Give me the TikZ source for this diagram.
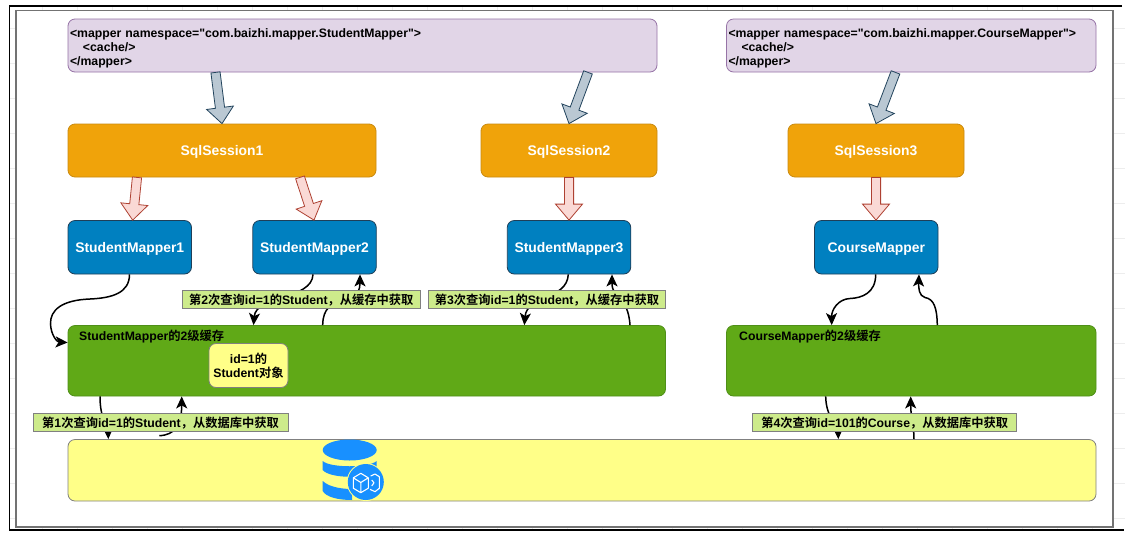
\documentclass[tikz,border=0pt]{standalone}
\usepackage{fontspec}
\usepackage{xcolor}
\newfontfamily\latin{Liberation Sans}
\newfontfamily\cjk[BoldFont={Noto Sans CJK SC Bold}]{Noto Sans CJK SC}
\usetikzlibrary{arrows.meta,calc}
\definecolor{mapperfill}{HTML}{E1D5E7}
\definecolor{mapperline}{HTML}{9673A6}
\definecolor{sessfill}{HTML}{F0A30A}
\definecolor{sessline}{HTML}{C98A10}
\definecolor{smfill}{HTML}{0080C0}
\definecolor{smline}{HTML}{1F3F58}
\definecolor{cachefill}{HTML}{60A917}
\definecolor{cacheline}{HTML}{4F8F18}
\definecolor{notefill}{HTML}{CDEB8B}
\definecolor{dbfill}{HTML}{FFFF88}
\definecolor{iconblue}{HTML}{1890FF}
\definecolor{bluefill}{HTML}{BAC8D3}
\definecolor{blueline}{HTML}{23445D}
\definecolor{redfill}{HTML}{FAD9D5}
\definecolor{redline}{HTML}{AE4132}
\begin{document}
\begin{tikzpicture}[
    x=1pt,y=-1pt,
    txt/.style={font=\latin\fontsize{12.25pt}{14pt}\selectfont\bfseries},
    big/.style={font=\latin\fontsize{13.9pt}{16pt}\selectfont\bfseries,text height=13pt,text depth=3pt},
    box/.style={rectangle,rounded corners=7pt,draw,line width=0.8pt,inner sep=0pt,txt},
    mapperbox/.style={box,fill=mapperfill,draw=mapperline,align=left,minimum height=53pt},
    sessbox/.style={box,fill=sessfill,draw=sessline,text=white,minimum height=53pt,big},
    smbox/.style={box,fill=smfill,draw=smline,text=white,minimum width=123.5pt,minimum height=53.5pt,big},
    cachebox/.style={box,fill=cachefill,draw=cacheline,minimum height=70.5pt},
    objbox/.style={box,fill=dbfill,draw=gray,align=center},
    dbbox/.style={box,fill=dbfill,draw=gray,minimum width=1028pt,minimum height=61.5pt},
    note/.style={rectangle,draw=gray,line width=0.9pt,fill=notefill,inner sep=0pt,minimum height=18pt,txt,text height=12.5pt,text depth=2.6pt},
    title/.style={anchor=west,inner sep=0pt,txt},
    flow/.style={-{Stealth[length=12pt,width=11pt,inset=3pt]},line width=1.5pt},
    fat/.style={line width=0.8pt,to path={
        ($(\tikztostart)!4.6pt!90:(\tikztotarget)$)
        -- ($($(\tikztotarget)!16pt!(\tikztostart)$)!4.6pt!90:(\tikztotarget)$)
        -- ($($(\tikztotarget)!16pt!(\tikztostart)$)!13.5pt!90:(\tikztotarget)$)
        -- (\tikztotarget)
        -- ($($(\tikztotarget)!16pt!(\tikztostart)$)!13.5pt!-90:(\tikztotarget)$)
        -- ($($(\tikztotarget)!16pt!(\tikztostart)$)!4.6pt!-90:(\tikztotarget)$)
        -- ($(\tikztostart)!4.6pt!-90:(\tikztotarget)$) -- cycle}},
    bluearrow/.style={fat,fill=bluefill,draw=blueline},
    redarrow/.style={fat,fill=redfill,draw=redline}
]
\useasboundingbox (0,0) rectangle (1125,542);
% sheet and frames
\foreach \y in {28,63,...,518}
    \draw[black!7,line width=0.5pt] (10,\y) -- (1125,\y);
\foreach \x in {42,77,...,1092}
    \draw[black!7,line width=0.5pt] (\x,6) -- (\x,530);
\draw[black!55,line width=1.2pt,fill=white] (16,10.5) rectangle (1113,527);
\draw[black,line width=1.2pt] (1122,6) -- (9.5,6) -- (9.5,530) -- (1124,530);
% top row
\node[mapperbox,minimum width=589pt,text width=585pt] (map1) at (362.5,45.5)
    {\rule{0pt}{15pt}<mapper namespace="com.baizhi.mapper.StudentMapper">\\\hspace*{13pt}<cache/>\\</mapper>};
\node[mapperbox,minimum width=369.5pt,text width=365.5pt] (map2) at (911.25,45.5)
    {\rule{0pt}{15pt}<mapper namespace="com.baizhi.mapper.CourseMapper">\\\hspace*{13pt}<cache/>\\</mapper>};
\foreach \x/\w/\name/\lbl in {222/308/sess1/SqlSession1,569/176/sess2/SqlSession2,876/176/sess3/SqlSession3}
    \node[sessbox,minimum width=\w pt] (\name) at (\x,150.5) {\lbl};
\foreach \x/\name/\lbl in {129.75/sm1/StudentMapper1,314.5/sm2/StudentMapper2,569/sm3/StudentMapper3,876.25/cm/CourseMapper}
    \node[smbox] (\name) at (\x,247.25) {\lbl};
% caches and database
\node[cachebox,minimum width=597.5pt] (cache1) at (366.75,360.75) {};
\node[cachebox,minimum width=369.5pt] (cache2) at (911.25,360.75) {};
\node[title] (t1) at (79,336.7) {StudentMapper{\cjk 的}2{\cjk 级缓存}};
\node[title] (t2) at (739,336.7) {CourseMapper{\cjk 的}2{\cjk 级缓存}};
\node[objbox,minimum width=79pt,minimum height=44pt] (obj) at (248.5,365.5) {\rule{0pt}{12pt}id=1{\cjk 的}\\Student{\cjk 对象}};
\node[dbbox] (db) at (582,470.25) {};
% block arrows
\foreach \xa/\src/\xb/\dst in {215.5/map1/222/sess1,588/map1/569/sess2,895.5/map2/876/sess3}
    \draw[bluearrow] (\xa,0 |- \src.south) to (\xb,0 |- \dst.north);
\foreach \xa/\src/\xb/\dst in {137/sess1/132.7/sm1,300/sess1/314/sm2,569/sess2/569/sm3,876/sess3/876/cm}
    \draw[redarrow] (\xa,0 |- \src.south) to (\xb,0 |- \dst.north);
% query flows
\draw[flow] (129.5,0 |- sm1.south) .. controls (129.5,293) and (112,298) .. (90,299)
    .. controls (62,300) and (50,310) .. (50.5,324) .. controls (51,335) and (57,342) .. (0,342.5 -| cache1.west);
\draw[flow] (313,0 |- sm2.south) .. controls (312,300) and (256,295) .. (253.5,0 |- cache1.north);
\draw[flow] (322.7,0 |- cache1.north) .. controls (323,290) and (360,310) .. (360,0 |- sm2.south);
\draw[flow] (568.3,0 |- sm3.south) .. controls (567,300) and (527,295) .. (524.3,0 |- cache1.north);
\draw[flow] (630,0 |- cache1.north) .. controls (628,295) and (612,300) .. (612,0 |- sm3.south);
\draw[flow] (875.7,0 |- cm.south) .. controls (875.7,293) and (862,298) .. (850,298.5)
    .. controls (838,299) and (831.5,310) .. (831.7,0 |- cache2.north);
\draw[flow] (937.3,0 |- cache2.north) .. controls (937,308) and (934,299) .. (925,297.5)
    .. controls (919,296) and (918.5,288) .. (919,0 |- cm.south);
\draw[flow] (100,0 |- cache1.south) .. controls (100,420) and (108,425) .. (108.3,0 |- db.north);
\coordinate (free1) at (159.3,435.7);
\draw[flow] (free1) .. controls (175,435) and (181.7,425) .. (181.7,0 |- cache1.south);
\draw[flow] (825.7,0 |- cache2.south) .. controls (826,418) and (838,425) .. (838.3,0 |- db.north);
\draw[flow] (914,0 |- db.north) .. controls (914,425) and (910.7,418) .. (910.7,0 |- cache2.south);
% notes
\node[note,minimum width=255pt] (q1) at (160.5,422.5) {{\cjk 第}1{\cjk 次查询}id=1{\cjk 的}Student{\cjk ，从数据库中获取}};
\node[note,minimum width=237.5pt] (q2) at (301.25,299.7) {{\cjk 第}2{\cjk 次查询}id=1{\cjk 的}Student{\cjk ，从缓存中获取}};
\node[note,minimum width=237.5pt] (q3) at (547,299.7) {{\cjk 第}3{\cjk 次查询}id=1{\cjk 的}Student{\cjk ，从缓存中获取}};
\node[note,minimum width=264pt] (q4) at (884.7,422.5) {{\cjk 第}4{\cjk 次查询}id=101{\cjk 的}Course{\cjk ，从数据库中获取}};
% database icon
\fill[iconblue] (322.7,450) arc[x radius=27,y radius=10.5,start angle=180,end angle=-180];
\fill[iconblue] (322.7,461) .. controls (330,468) and (369,468) .. (376.7,461) -- (376.7,470)
    .. controls (369,479) and (330,479) .. (322.7,470) -- cycle;
\fill[iconblue] (322.7,481) .. controls (330,488) and (345,489) .. (352,489) -- (352,500)
    .. controls (338,500) and (326,497) .. (322.7,491) -- cycle;
\fill[dbfill] (365.8,482) circle[radius=19];
\fill[iconblue] (365.8,482) circle[radius=18];
\draw[white,line width=1.1pt,line join=round] (360.8,473.3) -- (368.3,477.8) -- (368.3,488.2) -- (360.8,492.7) -- (353.3,488.2) -- (353.3,477.8) -- cycle
    (353.3,477.8) -- (360.8,482.5) -- (368.3,477.8) (360.8,482.5) -- (360.8,492.7);
\draw[white,line width=1.1pt,line join=round] (370.7,476) -- (375,474) -- (379.3,476.7) -- (379.3,488.3) -- (375,491.7) -- (370,489.3)
    (371.7,480) -- (374,482.7) -- (371.7,486);
\end{tikzpicture}
\end{document}
